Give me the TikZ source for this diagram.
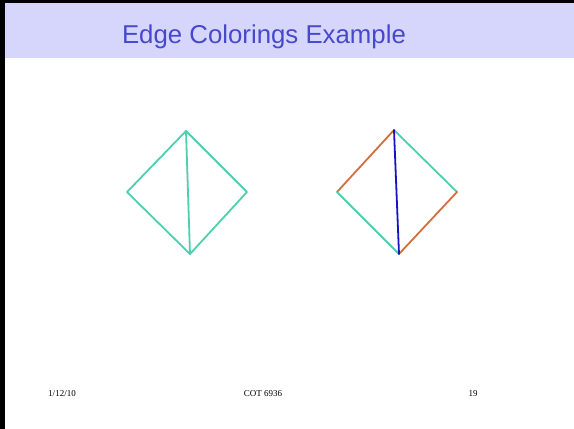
\documentclass[tikz,border=0pt]{standalone}
\usepackage{fontspec}
\setmainfont{Liberation Serif}
\newfontfamily\titlefont{Liberation Sans}
\usetikzlibrary{positioning}

\definecolor{bandcol}{HTML}{D6D6FC}
\definecolor{titlecol}{HTML}{4848CC}
\definecolor{tealcol}{HTML}{4ECFB0}
\definecolor{orangecol}{HTML}{D0703C}
\definecolor{bluecol}{HTML}{1414C4}

\begin{document}
\begin{tikzpicture}[
    x=1pt, y=-1pt,
    vertex/.style={inner sep=0pt, minimum size=0pt},
    edge/.style={line width=1.8pt, line cap=round, line join=round},
    footer/.style={font=\fontsize{9}{10}\selectfont, anchor=base}
]
    % =========================================================
    % SLIDE FRAME AND TITLE BAND
    % =========================================================
    \useasboundingbox (0,0) rectangle (574,429);
    \fill [white] (0,0) rectangle (574,429);
    \fill [bandcol] (0,0) rectangle (574,58);
    \fill [black] (0,0) rectangle (574,3);
    \fill [black] (0,0) rectangle (5,429);

    \node [text=titlecol, font=\titlefont\fontsize{25.8}{30}\selectfont, anchor=base] (title) at (264,43) {Edge Colorings Example};

    % =========================================================
    % LEFT GRAPH: ALL EDGES ONE COLOUR
    % =========================================================
    \node [vertex] (la) at (186,131) {};
    \node [vertex] (lb) at (127,192) {};
    \node [vertex] (lc) at (247,192) {};
    \node [vertex] (ld) at (190,254) {};

    \draw [edge, tealcol] (la.center) -- (lb.center) -- (ld.center) -- (lc.center) -- cycle;
    \draw [edge, tealcol] (la.center) -- (ld.center);

    % =========================================================
    % RIGHT GRAPH: PROPER 3-EDGE-COLOURING
    % =========================================================
    \node [vertex] (ra) at (394,130) {};
    \node [vertex] (rb) at (337,192) {};
    \node [vertex] (rc) at (457,192) {};
    \node [vertex] (rd) at (399,254) {};

    \draw [edge, orangecol] (ra.center) -- (rb.center);
    \draw [edge, tealcol] (ra.center) -- (rc.center);
    \draw [edge, tealcol] (rb.center) -- (rd.center);
    \draw [edge, orangecol] (rc.center) -- (rd.center);
    \draw [edge, bluecol] (ra.center) -- (rd.center);

    % =========================================================
    % FOOTER
    % =========================================================
    \node [footer] (date) at (62,396) {1/12/10};
    \node [footer] (course) at (263,396) {COT 6936};
    \node [footer] (page) at (473,396) {19};
\end{tikzpicture}
\end{document}
